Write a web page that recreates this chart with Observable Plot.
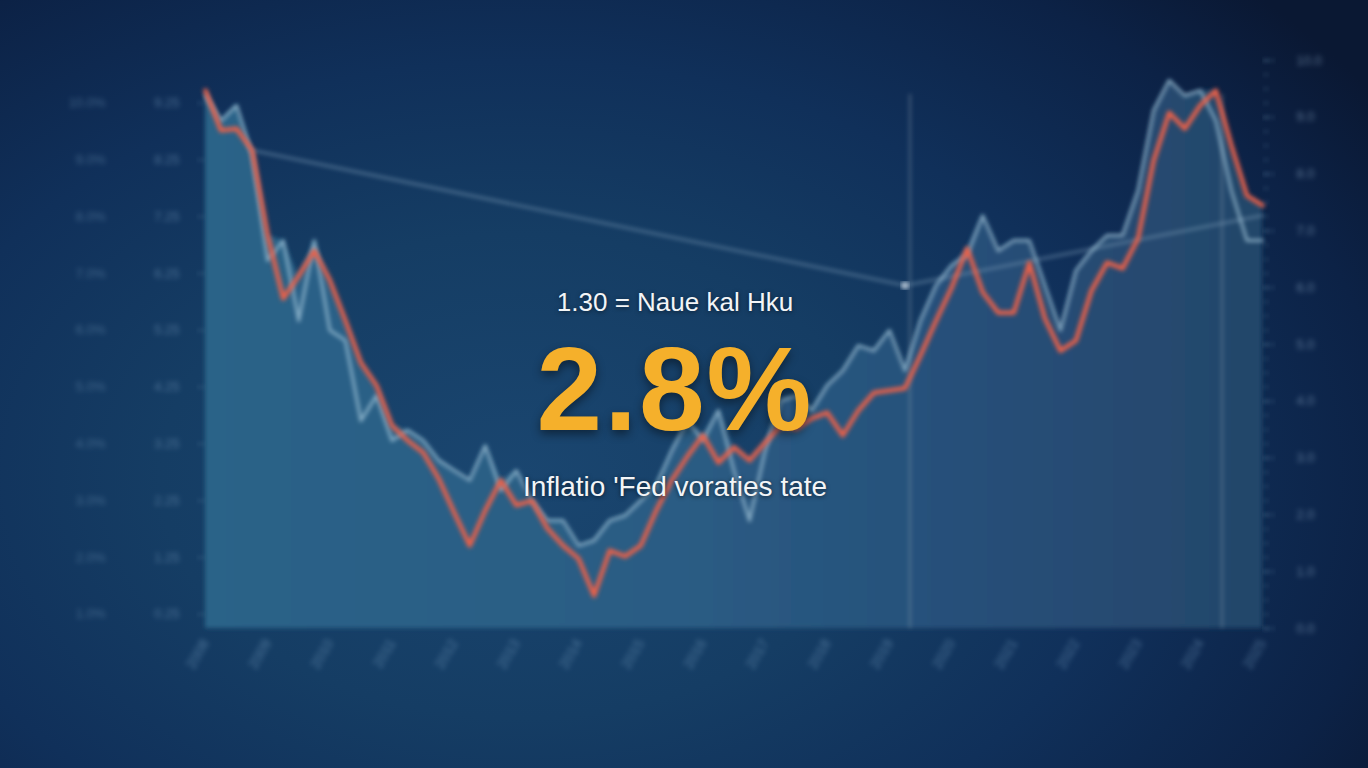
<!DOCTYPE html>
<html><head><meta charset="utf-8">
<script src="https://cdn.jsdelivr.net/npm/d3@7"></script>
<script src="https://cdn.jsdelivr.net/npm/@observablehq/plot@0.6"></script>
<style>
html,body{margin:0;padding:0;width:1368px;height:768px;overflow:hidden;}
body{position:relative;font-family:"Liberation Sans",Arial,sans-serif;
 background:radial-gradient(ellipse 75% 90% at 38% 62%, #1a4670 0%, #153d64 35%, #10305a 60%, #0c2246 85%, #0a1833 100%);}
#chart{position:absolute;left:0;top:0;}
.ov{position:absolute;left:425px;width:500px;text-align:center;color:#f3f5f7;white-space:nowrap;}
#sub{top:287px;font-size:26px;text-shadow:0 1px 4px rgba(0,0,0,.5);}
#big{top:330px;font-size:118px;font-weight:bold;color:#f5b02b;line-height:1;text-shadow:0 4px 10px rgba(0,0,0,.45);letter-spacing:2px;}
#cap{top:471px;font-size:28px;text-shadow:0 1px 4px rgba(0,0,0,.6);}
</style></head>
<body>
<div id="chart"></div>
<div class="ov" id="sub">1.30 = Naue kal Hku</div>
<div class="ov" id="big">2.8%</div>
<div class="ov" id="cap">Inflatio 'Fed voraties tate</div>
<script>
// quarterly series starting 2008
const startYear = 2008;
const redSeries = [9.47,8.77,8.80,8.42,6.92,5.81,6.21,6.65,6.13,5.42,4.68,4.28,3.57,3.31,3.10,2.64,2.04,1.46,2.08,2.61,2.17,2.25,1.76,1.46,1.23,0.58,1.37,1.27,1.46,2.08,2.61,3.03,3.40,2.92,3.19,2.96,3.27,3.57,3.52,3.70,3.80,3.40,3.84,4.15,4.19,4.23,4.81,5.42,6.00,6.69,5.92,5.56,5.56,6.44,5.46,4.89,5.07,5.95,6.44,6.34,6.87,8.24,9.08,8.80,9.21,9.47,8.50,7.62,7.45];
const blueSeries = [9.38,8.94,9.21,8.33,6.48,6.83,5.42,6.83,5.25,5.07,3.66,4.10,3.31,3.49,3.31,2.96,2.78,2.61,3.22,2.43,2.78,2.25,1.90,1.90,1.46,1.55,1.90,1.99,2.25,2.52,3.13,3.66,3.31,3.84,2.78,1.90,3.13,4.01,4.10,3.84,4.28,4.54,4.98,4.89,5.25,4.54,5.42,6.04,6.39,6.57,7.27,6.65,6.83,6.83,6.04,5.25,6.30,6.65,6.92,6.92,7.71,9.12,9.65,9.38,9.47,8.94,7.71,6.83,6.83];
const trendT = [2008.75, 2019.25, 2025];
const trendV = [8.42, 6.04, 7.27];
const markerT = [2019.33, 2024.35];
const markerTop = 9.4;
const leftTicks = [9.25,8.25,7.25,6.25,5.25,4.25,3.25,2.25,1.25,0.25];
const leftOuterLabels = ["10.0%","9.0%","8.0%","7.0%","6.0%","5.0%","4.0%","3.0%","2.0%","1.0%"];
const rightTicks = [0,1,2,3,4,5,6,7,8,9,10];
const years = d3.range(2008, 2026);

const data = redSeries.map((r, i) => ({t: startYear + i/4, red: r, blue: blueSeries[i], top: Math.max(r, blueSeries[i])}));
const trend = trendT.map((t, i) => ({t, v: trendV[i]}));

const plot = Plot.plot({
  width: 1368, height: 700,
  marginLeft: 205, marginRight: 106, marginTop: 60, marginBottom: 72,
  style: {background: "transparent", color: "#7fa3c2", fontFamily: "Liberation Sans, Arial, sans-serif", fontSize: "13px"},
  x: {domain: [2008, 2025], label: null},
  y: {domain: [0, 10], label: null},
  marks: [
    Plot.areaY(data, {x: "t", y: "top", fill: "url(#areaGrad)", curve: "linear"}),
    Plot.ruleX([2008], {y1: 0, y2: 9.5, stroke: "#5f8fb5", strokeOpacity: 0.35, strokeWidth: 4}),
    Plot.ruleY([0], {stroke: "#4f86ad", strokeWidth: 4, strokeOpacity: 0.8}),
    Plot.ruleX(markerT, {y1: 0, y2: markerTop, stroke: "#8a9cb0", strokeOpacity: 0.45, strokeWidth: 2}),
    Plot.line(trend, {x: "t", y: "v", stroke: "#7d9cb8", strokeOpacity: 0.55, strokeWidth: 2.5}),
    Plot.line(data, {x: "t", y: "blue", stroke: "#a9cde0", strokeOpacity: 0.7, strokeWidth: 3, strokeLinejoin: "round"}),
    Plot.line(data, {x: "t", y: "red", stroke: "#e8604a", strokeWidth: 4.5, strokeLinejoin: "round"}),
    Plot.dot([trend[1]], {x: "t", y: "v", r: 4, fill: "#dbe6ef", fillOpacity: 0.7}),
    Plot.axisY(leftTicks, {anchor: "left", label: null, tickSize: 8, tickPadding: 18, tickFormat: d => d.toFixed(2), stroke: "#6d93b5", strokeOpacity: 0.5, fill: "#6f95b8", fillOpacity: 0.6}),
    Plot.axisY(leftTicks, {anchor: "left", label: null, tickSize: 0, tickPadding: 100, tickFormat: (d, i) => leftOuterLabels[i], fill: "#6f95b8", fillOpacity: 0.5}),
    Plot.axisY(d3.range(0, 10.01, 0.25), {anchor: "right", label: null, tickSize: 6, tickFormat: () => "", stroke: "#6d93b5", strokeOpacity: 0.5}),
    Plot.axisY(rightTicks, {anchor: "right", label: null, tickSize: 12, tickPadding: 22, tickFormat: d => d.toFixed(1), stroke: "#6d93b5", strokeOpacity: 0.5, fill: "#8aa7c4", fillOpacity: 0.6}),
    Plot.axisX(years, {anchor: "bottom", label: null, tickSize: 0, tickPadding: 12, tickRotate: -60, tickFormat: d => String(d), fill: "#6f95b8", fillOpacity: 0.65, fontSize: 14})
  ]
});
document.getElementById("chart").appendChild(plot);

// gradient for the area and depth-of-field blur on the background chart
const svg = d3.select(plot);
const defs = svg.insert("defs", ":first-child");
const grad = defs.append("linearGradient").attr("id", "areaGrad").attr("x1", "0").attr("x2", "1").attr("y1", "0").attr("y2", "0");
grad.append("stop").attr("offset", "0%").attr("stop-color", "#2b6388");
grad.append("stop").attr("offset", "45%").attr("stop-color", "#2a5c84");
grad.append("stop").attr("offset", "70%").attr("stop-color", "#27507a");
grad.append("stop").attr("offset", "100%").attr("stop-color", "#24466a");
defs.append("filter").attr("id", "soft").attr("x", "-5%").attr("y", "-5%").attr("width", "110%").attr("height", "110%")
  .append("feGaussianBlur").attr("stdDeviation", 1.9);
defs.append("filter").attr("id", "softer").attr("x", "-20%").attr("y", "-20%").attr("width", "140%").attr("height", "140%")
  .append("feGaussianBlur").attr("stdDeviation", 2.8);
svg.selectAll(":scope > g, :scope > path").attr("filter", "url(#soft)");
svg.selectAll('g[aria-label$="tick label"]').attr("filter", "url(#softer)");
</script>
</body></html>
